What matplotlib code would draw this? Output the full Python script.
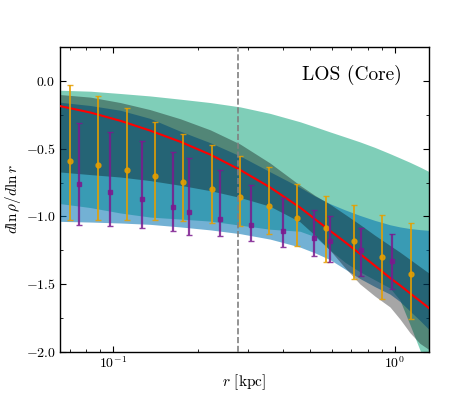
import matplotlib
matplotlib.use("Agg")
import matplotlib.pyplot as plt
from matplotlib.ticker import MultipleLocator
import numpy as np

plt.rcParams["font.family"] = "serif"
plt.rcParams["font.serif"] = ["cmr10"]
plt.rcParams["mathtext.fontset"] = "cm"
plt.rcParams["axes.formatter.use_mathtext"] = True
plt.rcParams["font.size"] = 10

# radius grid of the posterior bands [kpc]
r_band = [0.065, 0.083, 0.106, 0.135, 0.173, 0.221, 0.282, 0.36, 0.46, 0.52,
          0.588, 0.665, 0.751, 0.849, 0.96, 1.042, 1.13, 1.227, 1.331]

# teal band
teal_hi = [-0.067, -0.074, -0.091, -0.109, -0.133, -0.158, -0.19, -0.238, -0.30, -0.337,
           -0.375, -0.412, -0.449, -0.49, -0.536, -0.568, -0.60, -0.635, -0.672]
teal_lo = [-0.906, -0.935, -0.975, -1.005, -1.02, -1.035, -1.065, -1.095, -1.11, -1.15,
           -1.25, -1.34, -1.41, -1.47, -1.53, -1.62, -1.80, -1.99, -2.2]
# blue band
blue_hi = [-0.156, -0.18, -0.215, -0.275, -0.37, -0.455, -0.553, -0.67, -0.785, -0.85,
           -0.906, -0.952, -0.993, -1.03, -1.062, -1.078, -1.09, -1.098, -1.104]
blue_lo = [-1.037, -1.042, -1.049, -1.059, -1.078, -1.10, -1.128, -1.168, -1.227, -1.27,
           -1.32, -1.39, -1.46, -1.52, -1.575, -1.63, -1.70, -1.77, -1.844]
# grey band
grey_hi = [-0.099, -0.118, -0.158, -0.21, -0.278, -0.36, -0.465, -0.605, -0.77, -0.845,
           -0.91, -0.985, -1.06, -1.14, -1.215, -1.265, -1.318, -1.372, -1.425]
grey_lo = [-0.672, -0.691, -0.709, -0.735, -0.77, -0.81, -0.86, -0.925, -1.04, -1.14,
           -1.25, -1.38, -1.50, -1.59, -1.67, -1.76, -1.86, -1.94, -1.99]
# true profile slope
red_line = [-0.185, -0.232, -0.293, -0.365, -0.448, -0.543, -0.656, -0.785, -0.934, -1.02,
            -1.106, -1.19, -1.277, -1.365, -1.455, -1.51, -1.568, -1.626, -1.684]

# binned estimates (orange circles)
r_orange = [0.0702, 0.0885, 0.1115, 0.1409, 0.1775, 0.2239, 0.2821, 0.3565, 0.4493,
            0.5679, 0.7157, 0.9016, 1.137]
y_orange = [-0.59, -0.622, -0.654, -0.699, -0.743, -0.795, -0.854, -0.926, -1.01,
            -1.087, -1.183, -1.30, -1.424]
hi_orange = [-0.025, -0.11, -0.195, -0.30, -0.388, -0.469, -0.55, -0.637, -0.758,
             -0.852, -0.916, -0.989, -1.05]
lo_orange = [-1.025, -1.025, -1.03, -1.03, -1.037, -1.047, -1.07, -1.133, -1.222,
             -1.335, -1.463, -1.61, -1.76]

# binned estimates (purple squares)
r_purple = [0.0755, 0.0976, 0.1261, 0.1625, 0.1852, 0.2393, 0.3082, 0.3993, 0.5159,
            0.5864, 0.7555, 0.9757]
y_purple = [-0.763, -0.82, -0.874, -0.933, -0.965, -1.022, -1.064, -1.106, -1.158,
            -1.185, -1.249, -1.333]
hi_purple = [-0.309, -0.375, -0.442, -0.524, -0.568, -0.659, -0.77, -0.862, -0.956,
             -0.998, -1.084, -1.128]
lo_purple = [-1.067, -1.072, -1.089, -1.111, -1.136, -1.146, -1.183, -1.227, -1.296,
             -1.341, -1.44, -1.538]

r_core = 0.277

fig, ax = plt.subplots(figsize=(4.77, 3.95), dpi=100)

ax.fill_between(r_band, teal_lo, teal_hi, color="#009E73", alpha=0.5, lw=0, zorder=1)
ax.fill_between(r_band, blue_lo, blue_hi, color="#0072B2", alpha=0.55, lw=0, zorder=2)
ax.fill_between(r_band, grey_lo, grey_hi, color="k", alpha=0.35, lw=0, zorder=3)
ax.plot(r_band, red_line, color="red", lw=1.5, zorder=4)

yo = np.array(y_orange)
ax.errorbar(r_orange, yo, yerr=[yo - np.array(lo_orange), np.array(hi_orange) - yo],
            fmt="o", color="#E69F00", ms=3.5, elinewidth=1.4, capsize=2, capthick=1,
            alpha=0.85, zorder=5)
yp = np.array(y_purple)
ax.errorbar(r_purple, yp, yerr=[yp - np.array(lo_purple), np.array(hi_purple) - yp],
            fmt="s", color="#7B1A8E", ms=3.5, elinewidth=1.6, capsize=2, capthick=1,
            alpha=0.85, zorder=6)

ax.axvline(r_core, color="grey", ls="--", lw=1.2, zorder=7)

ax.set_xscale("log")
ax.set_xlim(0.0645, 1.324)
ax.set_ylim(-2.0, 0.25)
ax.yaxis.set_major_locator(MultipleLocator(0.5))
ax.yaxis.set_minor_locator(MultipleLocator(0.25))
ax.tick_params(which="both", direction="in", top=True, right=True, pad=3)
ax.tick_params(which="major", length=4)
ax.tick_params(which="minor", length=2.5)
for s in ax.spines.values():
    s.set_linewidth(1.0)

ax.text(0.79, 0.91, "LOS (Core)", transform=ax.transAxes, ha="center", va="center",
        fontsize=14)
ax.set_xlabel(r"$r$ [kpc]", fontsize=11, labelpad=1)
ax.set_ylabel(r"$d\ln\rho/d\ln r$", fontsize=11, labelpad=2)

fig.savefig("out.png", dpi=100)
